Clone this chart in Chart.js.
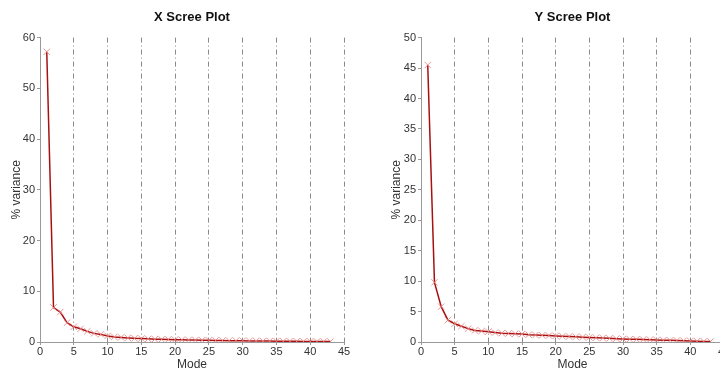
<!DOCTYPE html>
<html>
<head>
<meta charset="utf-8">
<script src="https://cdn.jsdelivr.net/npm/chart.js@4.4.1/dist/chart.umd.min.js"></script>
<style>
  html, body { margin: 0; padding: 0; background: #fff; overflow: hidden; width: 720px; height: 368px; }
  .box { position: absolute; top: 0; height: 368px; }
  #boxX { left: 0; width: 360px; }
  #boxY { left: 360px; width: 380px; }
</style>
</head>
<body>
<div class="box" id="boxX"><canvas id="screeX"></canvas></div>
<div class="box" id="boxY"><canvas id="screeY"></canvas></div>
<script>
const modes = [1,2,3,4,5,6,7,8,9,10,11,12,13,14,15,16,17,18,19,20,21,22,23,24,25,26,27,28,29,30,31,32,33,34,35,36,37,38,39,40,41,42,43];

const xVariance = [57.2, 6.8, 5.9, 3.8, 3.0, 2.6, 2.1, 1.7, 1.5, 1.2,
  1.0, 0.9, 0.8, 0.72, 0.68, 0.62, 0.56, 0.52, 0.5, 0.46,
  0.43, 0.4, 0.38, 0.35, 0.33, 0.31, 0.29, 0.27, 0.25, 0.23,
  0.22, 0.2, 0.19, 0.18, 0.17, 0.15, 0.14, 0.13, 0.12, 0.11,
  0.1, 0.09, 0.08];

const yVariance = [45.5, 9.8, 5.8, 3.6, 3.0, 2.6, 2.2, 1.9, 1.8, 1.7,
  1.55, 1.45, 1.4, 1.35, 1.3, 1.2, 1.15, 1.1, 1.05, 1.0,
  0.95, 0.9, 0.85, 0.8, 0.75, 0.7, 0.65, 0.6, 0.55, 0.5,
  0.47, 0.44, 0.4, 0.37, 0.33, 0.3, 0.27, 0.24, 0.2, 0.17,
  0.14, 0.1, 0.08];

const xTicks = [0, 5, 10, 15, 20, 25, 30, 35, 40, 45];

Chart.defaults.font.family = "'Liberation Sans', Arial, sans-serif";
Chart.defaults.color = '#333';

function screePlot(id, title, values, yMax, yStep, padLeft, yWidth) {
  return new Chart(id, {
    type: 'line',
    data: {
      datasets: [{
        data: modes.map((m, i) => ({ x: m, y: values[i] })),
        borderColor: '#a81010',
        borderWidth: 1.5,
        tension: 0,
        pointStyle: 'crossRot',
        pointRadius: 4.5,
        pointBorderColor: 'rgba(232,130,130,0.85)',
        pointBorderWidth: 1,
        pointBackgroundColor: 'transparent'
      }]
    },
    options: {
      responsive: true,
      maintainAspectRatio: false,
      animation: false,
      layout: { padding: { left: padLeft, right: 16, top: 0, bottom: 0 } },
      plugins: {
        legend: { display: false },
        tooltip: { enabled: false },
        title: {
          display: true,
          text: title,
          fullSize: false,
          color: '#111',
          font: { size: 13, weight: 'bold' },
          padding: { top: 10, bottom: 12 }
        }
      },
      scales: {
        x: {
          type: 'linear',
          min: 0,
          max: 45,
          afterBuildTicks: s => { s.ticks = xTicks.map(v => ({ value: v })); },
          afterFit: s => { s.height = 26; },
          ticks: { font: { size: 11 }, padding: 0, maxRotation: 0 },
          grid: {
            color: ctx => ctx.tick && ctx.tick.value === 0 ? 'rgba(0,0,0,0)' : '#8a8a8a',
            lineWidth: 1,
            tickLength: 3,
            tickColor: '#999'
          },
          border: { color: '#999', width: 1, dash: [5, 3, 1, 3] },
          title: { display: true, text: 'Mode', font: { size: 12, lineHeight: 1 }, padding: { top: 0, bottom: -3 }, color: '#333' }
        },
        y: {
          min: 0,
          max: yMax,
          afterFit: s => { s.width = yWidth; },
          ticks: { stepSize: yStep, font: { size: 11 }, padding: 2 },
          grid: { drawOnChartArea: false, tickLength: 3, tickColor: '#999' },
          border: { color: '#999', width: 1 },
          title: { display: true, text: '% variance', font: { size: 12 }, padding: 0, color: '#333' }
        }
      }
    }
  });
}

const chartX = screePlot('screeX', 'X Scree Plot', xVariance, 60, 10, 9, 31);
const chartY = screePlot('screeY', 'Y Scree Plot', yVariance, 50, 5, 29, 32);
</script>
</body>
</html>
